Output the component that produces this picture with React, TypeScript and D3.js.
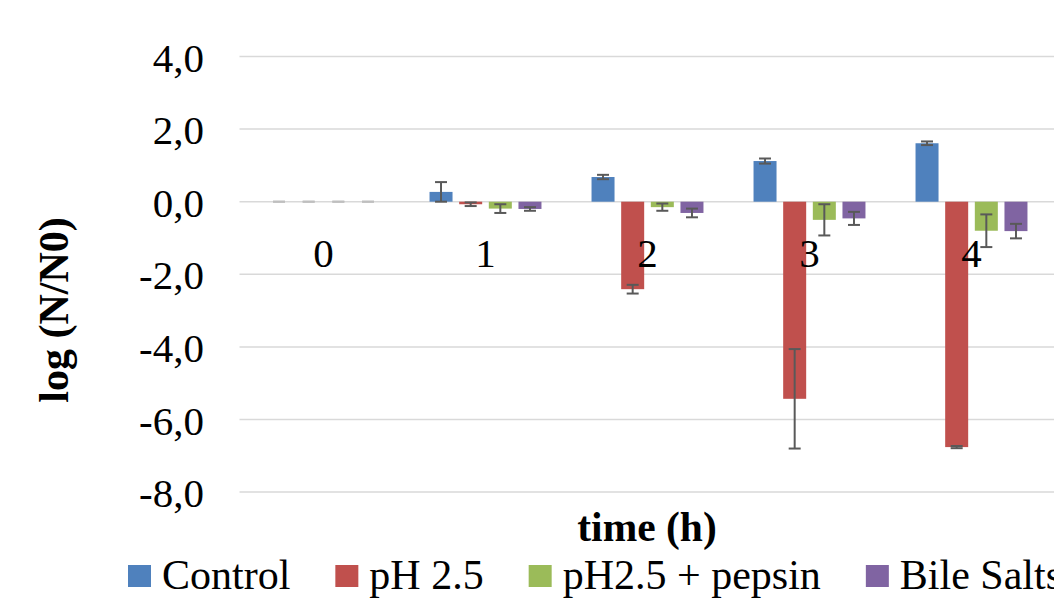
import React from "react";
import * as d3 from "d3";

const categories = ["0", "1", "2", "3", "4"];
const seriesNames = ["Control", "pH 2.5", "pH2.5 + pepsin", "Bile Salts"];
const seriesColors = ["#4F81BD", "#C0504D", "#9BBB59", "#8064A2"];
const controlVals = [0, 0.27, 0.68, 1.12, 1.61];
const controlErr = [0, 0.27, 0.06, 0.07, 0.05];
const ph25Vals = [0, -0.07, -2.41, -5.43, -6.76];
const ph25Err = [0, 0.05, 0.12, 1.37, 0.03];
const pepsinVals = [0, -0.19, -0.15, -0.5, -0.8];
const pepsinErr = [0, 0.12, 0.1, 0.43, 0.45];
const bileVals = [0, -0.2, -0.31, -0.46, -0.81];
const bileErr = [0, 0.05, 0.12, 0.18, 0.2];
const yTicks = [4, 2, 0, -2, -4, -6, -8];

const values = [controlVals, ph25Vals, pepsinVals, bileVals];
const errors = [controlErr, ph25Err, pepsinErr, bileErr];

const W = 1054;
const H = 598;
const FONT = "'Liberation Serif', 'Times New Roman', serif";

function textWidth(t: string, size: number, bold = false) {
  const c = document.createElement("canvas").getContext("2d");
  if (!c) return t.length * size * 0.5;
  c.font = `${bold ? "bold " : ""}${size}px 'Liberation Serif'`;
  return c.measureText(t).width;
}

export default function App() {
  const plotLeft = 242.5;
  const plotRight = 1052.5;
  const x = d3.scaleBand<string>().domain(categories).range([plotLeft, plotRight]).paddingInner(0).paddingOuter(0);
  const y = d3.scaleLinear().domain([-8, 4]).range([492.1, 56.5]);
  const step = x.bandwidth() * 0.183;
  const barW = 23;
  const sub = d3.scaleBand<number>().domain([0, 1, 2, 3]).range([0, step * 4]);

  const fmt = (v: number) => v.toFixed(1).replace(".", ",");

  // legend layout
  const legSize = 42;
  const legendItems: { x: number; name: string; color: string }[] = [];
  let lx = 128;
  seriesNames.forEach((n, i) => {
    legendItems.push({ x: lx, name: n, color: seriesColors[i] });
    lx += 23 + 11 + textWidth(n, legSize) + 45;
  });

  return (
    <svg
      width={W}
      height={H}
      style={{ position: "absolute", left: 0, top: 0, background: "#fff" }}
      fontFamily={FONT}
    >
      {yTicks.map((t) => (
        <g key={t}>
          <line x1={plotLeft - 3} x2={W} y1={y(t)} y2={y(t)} stroke="#d9d9d9" strokeWidth={1.5} />
          <text x={204} y={y(t) + 15} fontSize={41} textAnchor="end" fill="#000">
            {fmt(t)}
          </text>
        </g>
      ))}
      {values.map((vals, s) =>
        vals.map((v, i) => {
          const c = categories[i];
          const cx = x(c)! + x.bandwidth() / 2 - step * 2 + sub(s)! + step / 2;
          const y0 = y(0);
          const yv = y(v);
          const e = errors[s][i];
          return (
            <g key={`${s}-${i}`}>
              {v !== 0 && (
                <rect
                  x={cx - barW / 2}
                  y={Math.min(y0, yv)}
                  width={barW}
                  height={Math.abs(yv - y0)}
                  fill={seriesColors[s]}
                />
              )}
              <line x1={cx} x2={cx} y1={y(v + e)} y2={y(v - e)} stroke="#595959" strokeWidth={2} />
              <line x1={cx - 6} x2={cx + 6} y1={y(v + e)} y2={y(v + e)} stroke={v === 0 ? "#bfbfbf" : "#595959"} strokeWidth={2} />
              <line x1={cx - 6} x2={cx + 6} y1={y(v - e)} y2={y(v - e)} stroke={v === 0 ? "#bfbfbf" : "#595959"} strokeWidth={2} />
            </g>
          );
        })
      )}
      {categories.map((c) => (
        <text key={c} x={x(c)! + x.bandwidth() / 2} y={267} fontSize={41} textAnchor="middle" fill="#000">
          {c}
        </text>
      ))}
      <text x={647} y={541} fontSize={41.5} fontWeight="bold" textAnchor="middle" fill="#000">
        time (h)
      </text>
      <text
        transform="translate(68,310) rotate(-90)"
        fontSize={42}
        fontWeight="bold"
        textAnchor="middle"
        fill="#000"
      >
        log (N/N0)
      </text>
      {legendItems.map((it) => (
        <g key={it.name}>
          <rect x={it.x} y={565} width={23} height={22} fill={it.color} />
          <text x={it.x + 34} y={589} fontSize={legSize} fill="#000">
            {it.name}
          </text>
        </g>
      ))}
    </svg>
  );
}
